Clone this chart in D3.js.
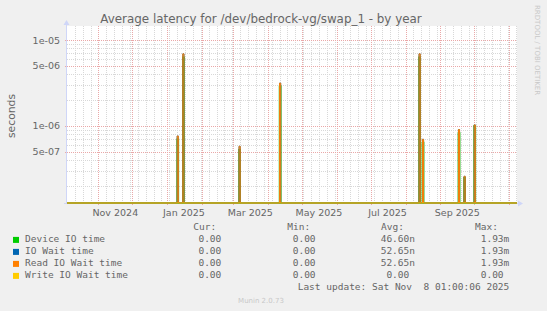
<!DOCTYPE html>
<html><head><meta charset="utf-8">
<script src="https://cdn.jsdelivr.net/npm/d3@7/dist/d3.min.js"></script>
<style>
body{margin:0;background:#f0f0f0;}
svg{display:block;}
text{fill:#666;}
</style>
</head><body>
<script>
// ---------- data ----------
const chartTitle = "Average latency for /dev/bedrock-vg/swap_1 - by year";
const yAxisLabel = "seconds";
const rangeStart = "2024-10-04T01:00";
const rangeEnd = "2025-11-08T01:00";
// days with non-zero latency (daily averages); other days are 0
const spikeDates = ["2025-01-10","2025-01-15","2025-03-06","2025-04-11","2025-08-13","2025-08-16","2025-09-17","2025-09-22","2025-10-01"];
const deviceIOValues = [7.0e-7, 6.3e-6, 5.3e-7, 2.9e-6, 6.3e-6, 6.4e-7, 8.3e-7, 2.5e-7, 1.0e-6];
const ioWaitValues   = [7.65e-7, 6.9e-6, 5.8e-7, 3.15e-6, 6.9e-6, 7.0e-7, 9.1e-7, 2.6e-7, 1.03e-6];
const readWaitValues = [7.65e-7, 6.9e-6, 5.8e-7, 3.15e-6, 6.9e-6, 7.0e-7, 9.1e-7, 2.6e-7, 1.03e-6];
const writeWaitValues = [0, 0, 0, 0, 0, 0, 0, 0, 0];
const yTickValues = [1e-5, 5e-6, 1e-6, 5e-7];
const yTickLabels = ["1e-05", "5e-06", "1e-06", "5e-07"];
const xTickMonths = ["2024-11", "2025-01", "2025-03", "2025-05", "2025-07", "2025-09"];
const xTickLabels = ["Nov 2024", "Jan 2025", "Mar 2025", "May 2025", "Jul 2025", "Sep 2025"];
const seriesNames = ["Device IO time", "IO Wait time", "Read IO Wait time", "Write IO Wait time"];
const seriesColors = ["#00CC00", "#0066B3", "#FF8000", "#FFCC00"];
const curValues = ["0.00", "0.00", "0.00", "0.00"];
const minValues = ["0.00", "0.00", "0.00", "0.00"];
const avgValues = ["46.60n", "52.65n", "52.65n", "0.00 "];
const maxValues = ["1.93m", "1.93m", "1.93m", "0.00 "];
const lastUpdate = "Last update: Sat Nov  8 01:00:06 2025";
const muninVersion = "Munin 2.0.73";
const rrdCredit = "RRDTOOL / TOBI OETIKER";

// ---------- layout ----------
const W = 547, H = 311;
const plot = {left: 67, right: 517, top: 26, bottom: 203};
const parse = d3.timeParse("%Y-%m-%dT%H:%M");
const parseDay = d3.timeParse("%Y-%m-%d");
const parseMonth = d3.timeParse("%Y-%m");
const t0 = parse(rangeStart), t1 = parse(rangeEnd);

const svg = d3.select("body").append("svg").attr("width", W).attr("height", H);
svg.append("rect").attr("width", W).attr("height", H).attr("fill", "#f0f0f0");
svg.append("rect").attr("x", plot.left).attr("y", plot.top)
  .attr("width", plot.right - plot.left).attr("height", plot.bottom - plot.top).attr("fill", "#fff");

const x = d3.scaleTime().domain([t0, t1]).range([plot.left, plot.right]);
const y = d3.scaleLog().domain([1.272e-7, 1.455e-5]).range([plot.bottom, plot.top]);

const grid = svg.append("g");
// minor vertical grid: weekly
const weekStart = d3.timeDay.floor(t0);
const weeks = d3.range(0, 60).map(k => d3.timeDay.offset(weekStart, 7 * k)).filter(d => d > t0 && d < t1);
grid.selectAll(".vmin").data(weeks).enter().append("line")
  .attr("x1", d => Math.round(x(d)) + 0.5).attr("x2", d => Math.round(x(d)) + 0.5)
  .attr("y1", plot.top).attr("y2", plot.bottom)
  .attr("stroke", "#d8d8d8").attr("stroke-dasharray", "1,1");
// minor horizontal grid
const minorY = [];
[-7, -6, -5].forEach(e => d3.range(1, 10).forEach(k => {
  const v = k * Math.pow(10, e);
  if (v > y.domain()[0] && v < y.domain()[1] && k !== 1 && k !== 5) minorY.push(v);
}));
grid.selectAll(".hmin").data(minorY).enter().append("line")
  .attr("x1", plot.left).attr("x2", plot.right)
  .attr("y1", d => Math.round(y(d)) + 0.5).attr("y2", d => Math.round(y(d)) + 0.5)
  .attr("stroke", "#d8d8d8").attr("stroke-dasharray", "1,1");
// major vertical grid: monthly
const months = d3.timeMonth.range(t0, t1);
grid.selectAll(".vmaj").data(months).enter().append("line")
  .attr("x1", d => Math.round(x(d)) + 0.5).attr("x2", d => Math.round(x(d)) + 0.5)
  .attr("y1", plot.top).attr("y2", plot.bottom + 3)
  .attr("stroke", "#eaa8a8").attr("stroke-dasharray", "1,1");
// major horizontal grid
grid.selectAll(".hmaj").data(yTickValues).enter().append("line")
  .attr("x1", plot.left - 2).attr("x2", plot.right)
  .attr("y1", d => Math.round(y(d)) + 0.5).attr("y2", d => Math.round(y(d)) + 0.5)
  .attr("stroke", "#eaa8a8").attr("stroke-dasharray", "1,1");

// ---------- series ----------
const day = 24 * 3600 * 1000;
function seriesPoints(values) {
  const pts = [[t0, 0]];
  spikeDates.forEach((ds, i) => {
    const d = parseDay(ds);
    pts.push([d, values[i]], [new Date(+d + day), 0]);
  });
  pts.push([t1, 0]);
  return pts;
}
const line = d3.line()
  .x(p => x(p[0]))
  .y(p => p[1] > 0 ? y(p[1]) : plot.bottom)
  .curve(d3.curveStepAfter);
const allSeries = [deviceIOValues, ioWaitValues, readWaitValues, writeWaitValues];
allSeries.forEach((vals, i) => {
  svg.append("path").attr("d", line(seriesPoints(vals)))
    .attr("fill", "none").attr("stroke", seriesColors[i])
    .attr("stroke-width", i === 0 ? 1.6 : 1)
    .attr("stroke-opacity", i === 3 ? 0.7 : 1);
});

// ---------- axes ----------
const axisColor = "#CFD6F8";
svg.append("line").attr("x1", plot.left - 0.5).attr("x2", plot.left - 0.5)
  .attr("y1", plot.top - 1).attr("y2", plot.bottom + 1).attr("stroke", axisColor);
svg.append("line").attr("x1", plot.left - 3).attr("x2", plot.left)
  .attr("y1", plot.bottom + 0.5).attr("y2", plot.bottom + 0.5).attr("stroke", axisColor);
svg.append("line").attr("x1", plot.right).attr("x2", plot.right + 2)
  .attr("y1", plot.bottom + 0.5).attr("y2", plot.bottom + 0.5).attr("stroke", axisColor);
svg.append("path").attr("d", `M${plot.left - 3.5},${plot.top - 1} L${plot.left - 0.5},${plot.top - 6} L${plot.left + 2.5},${plot.top - 1} Z`).attr("fill", axisColor);
svg.append("path").attr("d", `M${plot.right + 1},${plot.bottom - 2.5} L${plot.right + 6},${plot.bottom + 0.5} L${plot.right + 1},${plot.bottom + 3.5} Z`).attr("fill", axisColor);

// y tick labels
svg.selectAll(".ylab").data(yTickValues).enter().append("text")
  .attr("x", 60).attr("y", d => y(d) + 3.5).attr("text-anchor", "end")
  .attr("font-family", "DejaVu Sans").attr("font-size", 9.5)
  .text((d, i) => yTickLabels[i]);
// x tick labels (centered mid-month)
svg.selectAll(".xlab").data(xTickMonths).enter().append("text")
  .attr("x", d => x(d3.timeDay.offset(parseMonth(d), 15)))
  .attr("y", 215.5).attr("text-anchor", "middle")
  .attr("font-family", "DejaVu Sans").attr("font-size", 9.5)
  .text((d, i) => xTickLabels[i]);

// title and labels
svg.append("text").attr("x", 261).attr("y", 23).attr("text-anchor", "middle")
  .attr("font-family", "DejaVu Sans").attr("font-size", 11.9).text(chartTitle);
svg.append("text").attr("transform", "translate(15,116) rotate(-90)").attr("text-anchor", "middle")
  .attr("font-family", "DejaVu Sans").attr("font-size", 10.8).text(yAxisLabel);
svg.append("text").attr("transform", "translate(535,5) rotate(90)").attr("text-anchor", "start")
  .attr("font-family", "DejaVu Sans").attr("font-size", 7).style("fill", "#c8c8c8").text(rrdCredit);

// ---------- legend ----------
const mono = "DejaVu Sans Mono", fs = 9.5;
const headerY = 230.3, rowY0 = 242.4, rowStep = 12;
const heads = [["Cur:", 193.3], ["Min:", 287.3], ["Avg:", 381], ["Max:", 475]];
heads.forEach(h => svg.append("text").attr("x", h[1]).attr("y", headerY)
  .attr("font-family", mono).attr("font-size", fs).text(h[0]));
const cols = [[curValues, 221.3], [minValues, 315.6], [avgValues, 415], [maxValues, 509.3]];
seriesNames.forEach((name, i) => {
  const yy = rowY0 + i * rowStep;
  svg.append("rect").attr("x", 13).attr("y", yy - 5.5).attr("width", 6).attr("height", 6).attr("fill", seriesColors[i]);
  svg.append("text").attr("x", 25).attr("y", yy).attr("font-family", mono).attr("font-size", fs).text(name);
  cols.forEach(c => svg.append("text").attr("x", c[1]).attr("y", yy).attr("text-anchor", "end")
    .attr("font-family", mono).attr("font-size", fs).style("white-space", "pre")
    .attr("xml:space", "preserve").text(c[0][i]));
});
svg.append("text").attr("x", 509.3).attr("y", 290.3).attr("text-anchor", "end")
  .attr("font-family", mono).attr("font-size", fs).style("white-space", "pre").text(lastUpdate);
svg.append("text").attr("x", 261).attr("y", 302.5).attr("text-anchor", "middle")
  .attr("font-family", "DejaVu Sans").attr("font-size", 7).style("fill", "#c8c8c8").text(muninVersion);
</script>
</body></html>
